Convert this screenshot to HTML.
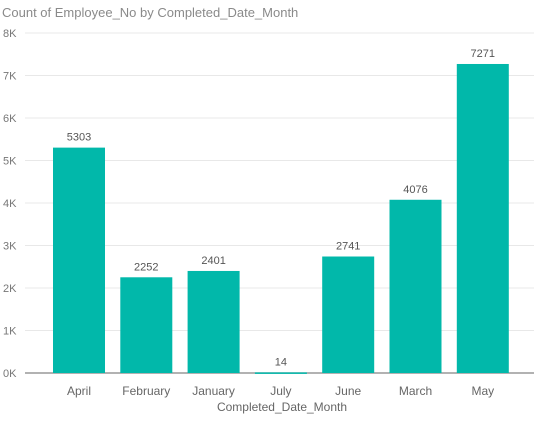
<!DOCTYPE html>
<html><head><meta charset="utf-8"><style>
body{margin:0;background:#fff;width:534px;height:418px;overflow:hidden;font-family:"Liberation Sans",sans-serif}
svg text{font-family:"Liberation Sans",sans-serif}
</style></head><body>
<svg id="chart" width="534" height="418" xmlns="http://www.w3.org/2000/svg">
<text x="2" y="17" font-size="13" fill="#8a8a8a">Count of Employee_No by Completed_Date_Month</text>
<g id="grid"></g><g id="bars"></g><g id="labels"></g>
<text x="282" y="411" font-size="12" fill="#666" text-anchor="middle">Completed_Date_Month</text>
</svg>
<script>
const categories=["April","February","January","July","June","March","May"];
const values=[5303,2252,2401,14,2741,4076,7271];
const yTicks=[0,1000,2000,3000,4000,5000,6000,7000,8000];
const yTickLabels=["0K","1K","2K","3K","4K","5K","6K","7K","8K"];
const NS="http://www.w3.org/2000/svg";
const y0=373,yTop=33,yMax=8000;
function y(v){return y0-(v/yMax)*(y0-yTop);}
const firstC=79,step=67.3,bw=52;
function x(i){return firstC+i*step;}
function mk(t,a,p){const e=document.createElementNS(NS,t);for(const k in a)e.setAttribute(k,a[k]);p.appendChild(e);return e;}
const g=document.getElementById('grid'),b=document.getElementById('bars'),l=document.getElementById('labels');
yTicks.forEach((v,i)=>{
 const ln=mk('line',{x1:25,x2:534,y1:y(v),y2:y(v),stroke:v===0?'#999':'#e8e8e8','stroke-width':v===0?1.5:1},g);
 
 
 const t=mk('text',{x:3,y:y(v)+4,'font-size':11,fill:'#777'},g);t.textContent=yTickLabels[i];
 
 
});
categories.forEach((c,i)=>{
 const r=mk('rect',{x:x(i)-bw/2,y:y(values[i]),width:bw,height:Math.max(y0-y(values[i]),1.5),fill:'#01b8aa'},b);
 
 
 const v=mk('text',{x:x(i),y:y(values[i])-7,'font-size':11,fill:'#555','text-anchor':'middle'},l);v.textContent=values[i];
 
 
 const t=mk('text',{x:x(i),y:395,'font-size':12,fill:'#666','text-anchor':'middle'},l);t.textContent=c;
 
 
});
</script>
</body></html>
